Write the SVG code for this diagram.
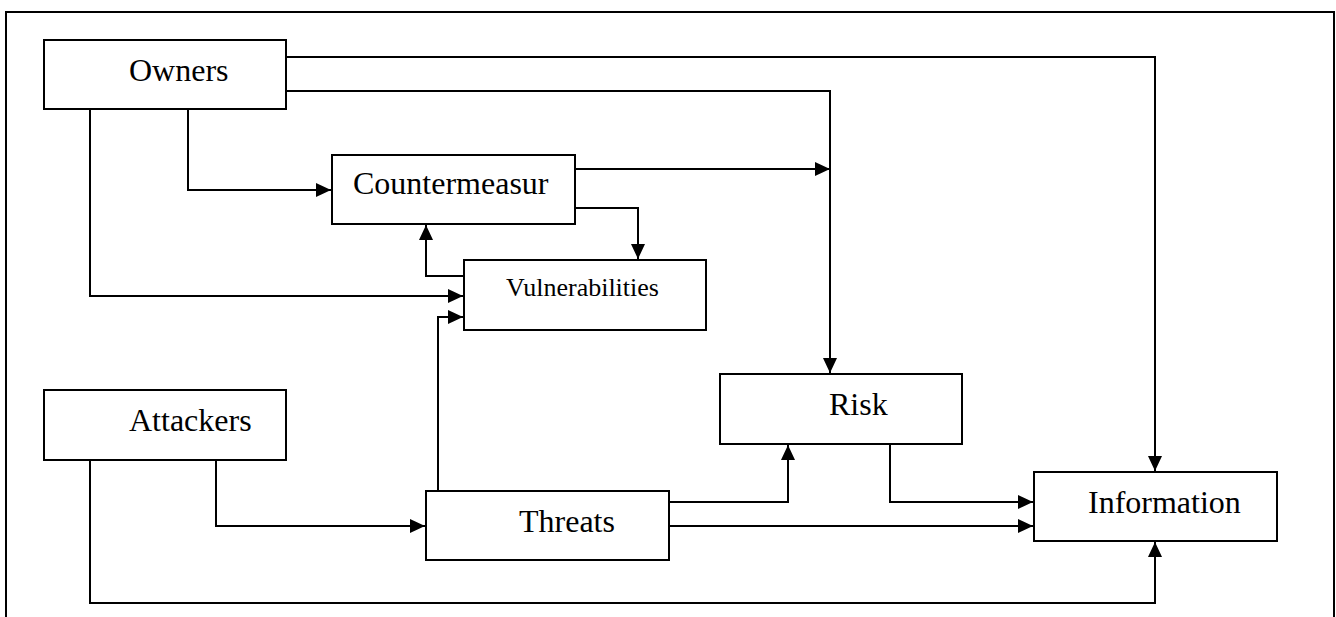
<svg xmlns="http://www.w3.org/2000/svg" width="1336" height="617" viewBox="0 0 1336 617">
  <style>
    .box { fill: #ffffff; stroke: #000000; stroke-width: 2; }
    .lbl { font-family: "Liberation Serif", "Times New Roman", serif; font-size: 32px; fill: #000000; }
    .small { font-size: 26px; }
    .wire { fill: none; stroke: #000000; stroke-width: 2; }
    .frame { fill: none; stroke: #000000; stroke-width: 2; }
  </style>
  <defs>
    <marker id="arrow" markerUnits="userSpaceOnUse" markerWidth="16" markerHeight="14" refX="15" refY="7" orient="auto">
      <path d="M0,0 L15,7 L0,14 Z" fill="#000000"/>
    </marker>
  </defs>

  <rect width="1336" height="617" fill="#ffffff"/>
  <!-- open page frame -->
  <path class="frame" d="M6,617 V12 H1334 V617"/>

  <g id="connectors">
    <path class="wire" d="M286,57 H1155 V471" marker-end="url(#arrow)"/>
    <path class="wire" d="M286,91 H830 V373" marker-end="url(#arrow)"/>
    <path class="wire" d="M90,109 V296 H463" marker-end="url(#arrow)"/>
    <path class="wire" d="M188,109 V190 H331" marker-end="url(#arrow)"/>
    <path class="wire" d="M575,169 H830" marker-end="url(#arrow)"/>
    <path class="wire" d="M575,208 H638 V259" marker-end="url(#arrow)"/>
    <path class="wire" d="M464,276 H426 V225" marker-end="url(#arrow)"/>
    <path class="wire" d="M438,491 V317 H463" marker-end="url(#arrow)"/>
    <path class="wire" d="M216,460 V526 H425" marker-end="url(#arrow)"/>
    <path class="wire" d="M90,460 V603 H1155 V542" marker-end="url(#arrow)"/>
    <path class="wire" d="M669,502 H788 V445" marker-end="url(#arrow)"/>
    <path class="wire" d="M669,526 H1033" marker-end="url(#arrow)"/>
    <path class="wire" d="M890,444 V502 H1033" marker-end="url(#arrow)"/>
  </g>

  <g id="owners">
    <rect class="box" x="44" y="40" width="242" height="69"/>
    <text class="lbl" x="129" y="81">Owners</text>
  </g>
  <g id="countermeasur">
    <rect class="box" x="332" y="155" width="243" height="69"/>
    <text class="lbl" x="353" y="194">Countermeasur</text>
  </g>
  <g id="vulnerabilities">
    <rect class="box" x="464" y="260" width="242" height="70"/>
    <text class="lbl small" x="506" y="296">Vulnerabilities</text>
  </g>
  <g id="attackers">
    <rect class="box" x="44" y="390" width="242" height="70"/>
    <text class="lbl" x="129" y="431">Attackers</text>
  </g>
  <g id="threats">
    <rect class="box" x="426" y="491" width="243" height="69"/>
    <text class="lbl" x="519" y="532">Threats</text>
  </g>
  <g id="risk">
    <rect class="box" x="720" y="374" width="242" height="70"/>
    <text class="lbl" x="829" y="415">Risk</text>
  </g>
  <g id="information">
    <rect class="box" x="1034" y="472" width="243" height="69"/>
    <text class="lbl" x="1088" y="513">Information</text>
  </g>
</svg>
